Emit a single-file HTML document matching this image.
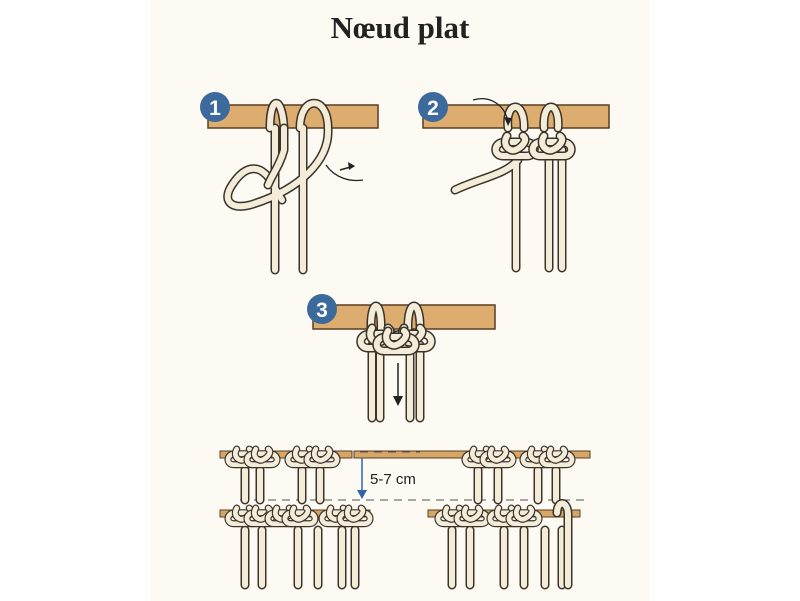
<!DOCTYPE html>
<html><head><meta charset="utf-8"><style>
html,body{margin:0;padding:0;background:#fff}
svg{display:block}
.o{fill:none;stroke:#3a332a;stroke-width:9;stroke-linecap:round;stroke-linejoin:round}
.i{fill:none;stroke:#f3ecd8;stroke-width:6;stroke-linecap:round;stroke-linejoin:round}
.rod{fill:#dcad6e;stroke:#5a3e22;stroke-width:1.5}
.trod{fill:#d6a666;stroke:#5a3e22;stroke-width:1}
</style></head><body>
<svg width="800" height="601" viewBox="0 0 800 601" xmlns="http://www.w3.org/2000/svg">
<defs>
<g id="knot">
<path class="o" d="M-12 6 C-22 6 -22 -8 -10 -8 L10 -8 C22 -8 22 6 12 6 Z"/>
<path class="i" d="M-12 6 C-22 6 -22 -8 -10 -8 L10 -8 C22 -8 22 6 12 6 Z"/>
<path class="o" d="M-8 -14 C-14 -4 -4 2 0 0 C6 -2 14 -10 8 -14"/>
<path class="i" d="M-8 -14 C-14 -4 -4 2 0 0 C6 -2 14 -10 8 -14"/>
</g>
<g id="sk"><use href="#knot" transform="scale(0.78)"/></g>
</defs>
<rect width="800" height="601" fill="#fff"/>
<rect x="150" y="0" width="500" height="601" fill="#fdf9f3"/>
<text x="400" y="38" text-anchor="middle" font-family="Liberation Serif, serif" font-weight="bold" font-size="31" fill="#222">Nœud plat</text>

<!-- Step 1 -->
<rect class="rod" x="208" y="105" width="170" height="23"/>
<path class="o" d="M275 270 L275 128 M270 128 C270 95 282 95 284 128 M303 270 L303 128 M300 128 C300 95 328 95 328 128 C330 160 300 190 250 205 C230 210 222 200 232 185 C245 165 262 160 276 190 L282 200"/>
<path class="i" d="M275 270 L275 128 M270 128 C270 95 282 95 284 128 M303 270 L303 128 M300 128 C300 95 328 95 328 128 C330 160 300 190 250 205 C230 210 222 200 232 185 C245 165 262 160 276 190 L282 200"/>
<path class="o" d="M284 128 L284 150 C280 165 272 175 268 185"/><path class="i" d="M284 128 L284 150 C280 165 272 175 268 185"/>
<path d="M326 165 C335 178 350 182 363 180" fill="none" stroke="#222" stroke-width="1.3"/>
<path d="M340 170 L354 166" stroke="#222" stroke-width="1.5"/><path d="M355 166 L348 162 L349 170 Z" fill="#222"/>
<circle cx="215" cy="107" r="15" fill="#3c6a9c"/>
<text x="215" y="115" text-anchor="middle" font-family="Liberation Sans, sans-serif" font-weight="bold" font-size="21" fill="#fff">1</text>

<!-- Step 2 -->
<rect class="rod" x="423" y="105" width="186" height="23"/>
<path class="o" d="M516 268 L516 150 M549 268 L549 150 M562 268 L562 150 M508 128 C505 100 525 100 524 128 M544 128 C542 100 560 100 558 128 M518 160 C505 175 480 178 455 190"/>
<path class="i" d="M516 268 L516 150 M549 268 L549 150 M562 268 L562 150 M508 128 C505 100 525 100 524 128 M544 128 C542 100 560 100 558 128 M518 160 C505 175 480 178 455 190"/>
<use href="#knot" x="515" y="150"/><use href="#knot" x="552" y="150"/>
<path d="M473 100 C490 95 505 105 508 122" fill="none" stroke="#222" stroke-width="1.3"/><path d="M508 126 L504 117 L512 118 Z" fill="#222"/>
<circle cx="433" cy="107" r="15" fill="#3c6a9c"/>
<text x="433" y="115" text-anchor="middle" font-family="Liberation Sans, sans-serif" font-weight="bold" font-size="21" fill="#fff">2</text>

<!-- Step 3 -->
<rect class="rod" x="313" y="305" width="182" height="24"/>
<path class="o" d="M372 418 L372 345 M380 418 L380 345 M410 418 L410 345 M420 418 L420 345 M371 330 C370 298 382 298 381 330 M408 330 C407 298 421 298 420 330"/>
<path class="i" d="M372 418 L372 345 M380 418 L380 345 M410 418 L410 345 M420 418 L420 345 M371 330 C370 298 382 298 381 330 M408 330 C407 298 421 298 420 330"/>
<use href="#knot" x="380" y="342"/><use href="#knot" x="412" y="342"/><use href="#knot" x="396" y="345"/>
<path d="M398 363 L398 398" stroke="#222" stroke-width="1.5"/><path d="M398 406 L393 396 L403 396 Z" fill="#222"/>
<circle cx="322" cy="309" r="15" fill="#3c6a9c"/>
<text x="322" y="317" text-anchor="middle" font-family="Liberation Sans, sans-serif" font-weight="bold" font-size="21" fill="#fff">3</text>

<!-- Bottom -->
<rect class="trod" x="220" y="451" width="132" height="7"/>
<rect class="trod" x="354" y="451" width="236" height="7"/>
<rect class="trod" x="220" y="510" width="150" height="7"/>
<rect class="trod" x="428" y="510" width="152" height="7"/>
<line x1="240" y1="500" x2="590" y2="500" stroke="#555" stroke-width="1" stroke-dasharray="8 6"/>
<line x1="360" y1="452" x2="420" y2="452" stroke="#555" stroke-width="1" stroke-dasharray="8 6"/>
<line x1="362" y1="458" x2="362" y2="492" stroke="#2e64a8" stroke-width="1.5"/><path d="M362 499 L357 490 L367 490 Z" fill="#2e64a8"/>
<text x="370" y="484" font-family="Liberation Sans, sans-serif" font-size="15" fill="#222">5-7 cm</text>
<g>
<path class="o" d="M245 500 V470 M260 500 V470 M302 500 V470 M320 500 V470 M478 500 V470 M498 500 V470 M538 500 V470 M556 500 V470 M245 585 V530 M262 585 V530 M298 585 V530 M318 585 V530 M342 585 V530 M355 585 V530 M452 585 V530 M470 585 V530 M504 585 V530 M524 585 V530 M545 585 V530 M562 585 V530"/>
<path class="i" d="M245 500 V470 M260 500 V470 M302 500 V470 M320 500 V470 M478 500 V470 M498 500 V470 M538 500 V470 M556 500 V470 M245 585 V530 M262 585 V530 M298 585 V530 M318 585 V530 M342 585 V530 M355 585 V530 M452 585 V530 M470 585 V530 M504 585 V530 M524 585 V530 M545 585 V530 M562 585 V530"/>
</g>
<use href="#sk" x="243" y="460"/><use href="#sk" x="262" y="460"/>
<use href="#sk" x="303" y="460"/><use href="#sk" x="322" y="460"/>
<use href="#sk" x="480" y="460"/><use href="#sk" x="498" y="460"/>
<use href="#sk" x="538" y="460"/><use href="#sk" x="557" y="460"/>
<use href="#sk" x="243" y="519"/><use href="#sk" x="262" y="519"/><use href="#sk" x="283" y="519"/>
<use href="#sk" x="300" y="519"/><use href="#sk" x="337" y="519"/><use href="#sk" x="355" y="519"/>
<use href="#sk" x="453" y="519"/><use href="#sk" x="472" y="519"/>
<use href="#sk" x="505" y="519"/><use href="#sk" x="524" y="519"/>
<path class="o" d="M557 513 C557 500 568 500 568 515 V585"/><path class="i" d="M557 513 C557 500 568 500 568 515 V585"/>
</svg>
</body></html>
